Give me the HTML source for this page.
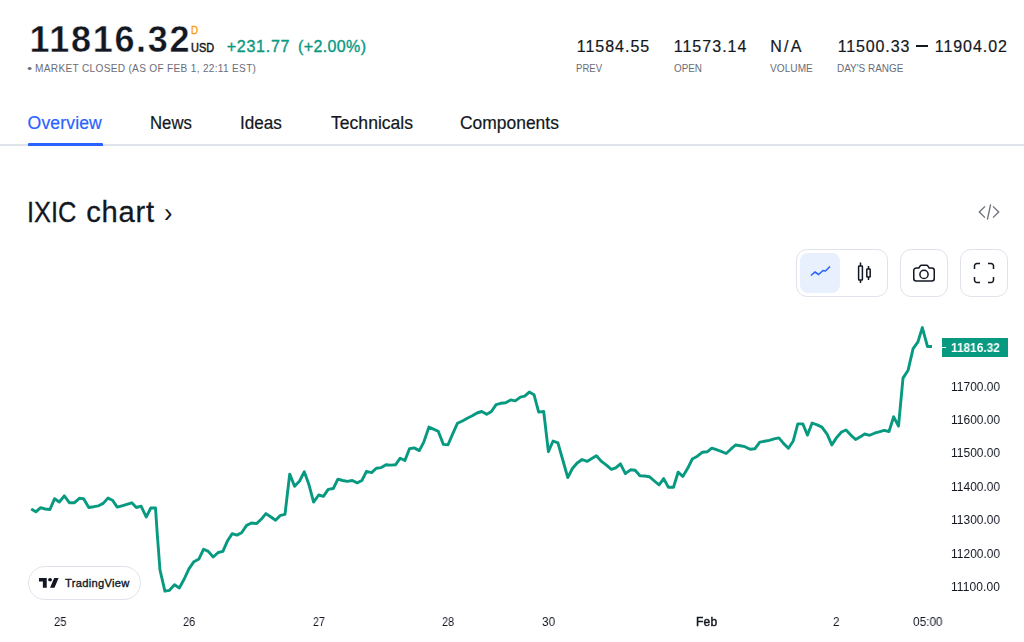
<!DOCTYPE html>
<html><head><meta charset="utf-8">
<style>
html,body{margin:0;padding:0;background:#fff;}
body{width:1024px;height:642px;position:relative;overflow:hidden;font-family:"Liberation Sans",sans-serif;color:#131722;}
.a{position:absolute;}
.t{position:absolute;white-space:nowrap;line-height:1;transform-origin:0 0;}
.btn{position:absolute;box-sizing:border-box;border:1px solid #e0e3eb;border-radius:11px;background:#fff;}
</style></head><body>
<div class="a" style="left:0;top:144px;width:1024px;height:2px;background:#e0e3eb;"></div>
<div class="a" style="left:28px;top:143px;width:75px;height:3px;background:#2962ff;border-radius:1px 1px 0 0;"></div>
<div class="a" style="left:916px;top:45px;width:12px;height:1.5px;background:#131722;"></div>

<svg class="a" style="left:976px;top:200px;" width="26" height="24" viewBox="0 0 26 24" fill="none" stroke="#6a6d78" stroke-width="1.3"><path d="M9 6.4 L3.3 12 L9 17.6 M17 6.4 L22.7 12 L17 17.6 M14.6 4.3 L11.4 19.7"/></svg>

<div class="btn" style="left:796px;top:249px;width:92px;height:48px;"></div>
<div class="a" style="left:800px;top:253px;width:40px;height:40px;background:#e8f0fe;border-radius:8px;"></div>
<div class="btn" style="left:900px;top:249px;width:48px;height:48px;"></div>
<div class="btn" style="left:960px;top:249px;width:48px;height:48px;"></div>
<svg class="a" style="left:806px;top:259px;" width="28" height="28" viewBox="0 0 28 28" fill="none" stroke="#2962ff" stroke-width="1.6"><path d="M5 16.5 L9 13 L12.5 15.5 L17 11.5 L19.5 12 L24 7.5"/></svg>
<svg class="a" style="left:850px;top:259px;" width="28" height="28" viewBox="0 0 28 28" fill="none" stroke="#131722" stroke-width="1.5"><path d="M10.5 3.5v3.5 M10.5 21V24 M18.5 7v3 M18.5 18V21"/><rect x="8.6" y="7" width="3.8" height="14" rx="0.6"/><rect x="16.8" y="10" width="3.4" height="8" rx="0.6"/></svg>
<svg class="a" style="left:910px;top:259px;" width="28" height="28" viewBox="0 0 28 28" fill="none" stroke="#131722" stroke-width="1.5"><path d="M3.75 11.5a2.5 2.5 0 0 1 2.5-2.5h2.6l1.2-1.9a1.8 1.8 0 0 1 1.5-.85h4.9a1.8 1.8 0 0 1 1.5.85l1.2 1.9h2.6a2.5 2.5 0 0 1 2.5 2.5v8a2.5 2.5 0 0 1-2.5 2.5h-15.500a2.5 2.5 0 0 1-2.5-2.5z"/><circle cx="14" cy="15.4" r="4.1"/></svg>
<svg class="a" style="left:970px;top:259px;" width="28" height="28" viewBox="0 0 28 28" fill="none" stroke="#131722" stroke-width="1.5"><path d="M4.5 10V7a2.5 2.5 0 0 1 2.5-2.5h3 M18 4.5h3a2.5 2.5 0 0 1 2.5 2.5v3 M23.5 18v3a2.5 2.5 0 0 1-2.5 2.5h-3 M10 23.5h-3a2.5 2.5 0 0 1-2.5-2.5v-3"/></svg>

<svg class="a" style="left:0;top:300px;" width="1024" height="342" viewBox="0 300 1024 342"><polyline fill="none" stroke="#089981" stroke-width="2.9" stroke-linejoin="round" stroke-linecap="butt" points="31.2,509 35.9,511.8 40.6,507.7 45.2,509 49.9,509.5 54.6,498.7 59.3,502 64.3,495.9 69.5,502.8 74.2,502.8 79.4,498.3 83.6,498.7 88.8,507.5 93.8,506.7 98.5,505.8 103.2,503.4 107.9,498.1 112.5,500.2 117.2,507.1 121.9,505.8 126.9,504.3 131.8,502.8 136.3,507.5 141.1,506.2 146.2,517 150.8,508 155.5,508 157.4,536 160,570 164.9,591.2 169.5,590.3 174.5,584.8 179.3,588 184.2,579 188.9,568.8 193.9,561.7 199,558.9 203.6,549.2 208.3,551.4 213.2,557 218.2,552.5 222.9,551.4 227.6,540.7 232.2,533.6 236.9,535.1 241.6,532.7 246.6,525.4 251.5,523 256.5,523.6 261.2,519.3 265.9,513.6 270.6,516.8 275.6,520.2 280.5,515.3 285,514.3 289.7,474.1 294.6,486.3 299.6,481 304.3,471.7 309,484.8 313.6,502.1 318.7,495 323.4,496.4 328.2,489.4 333.3,488.5 337.9,479.2 342.6,480.5 347.3,481.4 352.3,480.5 357.2,482.9 361.9,480.5 366.5,471.3 371.6,472.6 376.3,468.3 381.3,467.6 386,464.8 390.8,465.1 395.5,464.8 400.2,458.2 404.9,460.5 409.5,448.7 414.2,447.9 419.3,450.6 423.9,441.8 428.9,427.1 433.5,429.1 438.2,431.2 443.4,444.4 448,444.8 452.7,433.9 457.4,423.3 462.4,421 467.3,418.2 472.3,415.8 477,413 481.7,411.5 486.7,414.3 491.4,411.5 496.1,404.6 500.9,403.3 505.6,402.7 510.7,399.9 515.3,400.8 520.4,397.1 524.7,396.2 529.3,392.1 534,394.7 538.7,412.1 543.7,411.5 548.4,451.7 553.1,441 557.9,442.9 562.8,460 567.8,477.6 572.4,468.5 577.2,463 582.1,459.5 587.1,461.4 591.8,458.6 596.4,455.8 601.5,461.4 606.4,465.1 611.4,469.4 615.7,467.9 620.4,463.8 625.4,473.6 630.5,469.8 635.1,470.2 640,475.8 644.7,476 649.3,476.7 654.4,481 659.1,484.8 663.7,478.6 668.4,487.2 673.5,487.2 678.1,472.2 682.8,476.4 687.7,468.3 692.3,459 697.4,456.2 702.2,452.3 707.1,451.8 711.8,448.1 716.4,449.7 721.1,451.4 726.2,453.5 730.8,449.2 735.5,445 740.2,445.8 744.9,446.7 750.1,449.2 754.8,448.8 759.8,442.1 764.5,441.3 769.2,440.4 774.2,438.9 778.9,437.9 783.7,443.6 788.4,448.2 793.1,441.3 797.8,423.9 802.8,423.9 807.5,435.1 812.1,423 817.2,424.9 821.9,427.1 827.1,434.2 831.8,444.9 836.4,437.9 841.5,432 846,430 850.8,435.1 855.6,439.5 860,436.9 864.7,434 869.7,435.3 874.4,433.2 879.1,431.9 884.1,430.4 889,431.5 893.7,416.8 898.5,426.1 903,378.1 908.1,370.2 913.1,348.7 917.8,342.2 922.3,327.6 927.5,346.5 932,346.5"/></svg>

<div class="a" style="left:942px;top:338px;width:66px;height:19px;background:#089981;"></div>
<div class="a" style="left:942px;top:347px;width:4px;height:1px;background:#fff;"></div>

<div class="a" style="left:28px;top:566px;width:113px;height:34px;box-sizing:border-box;border:1px solid #e0e3eb;border-radius:17px;background:#fff;"></div>
<svg class="a" style="left:39.1px;top:578.4px;" width="19.9" height="9.8" viewBox="0 0 36 19" preserveAspectRatio="none" fill="#131722"><path d="M14 19H7V7H0V0h14v19z M28 19h-8l7.500-19h8L28 19z"/><circle cx="20" cy="3.500" r="3.500"/></svg>
<div class="t" style="top:21.83px;font-size:36px;color:#131722;font-weight:bold;left:29.6px;letter-spacing:1.68px;-webkit-text-stroke:0.4px #fff;">11816.32</div>
<div class="t" style="top:25.31px;font-size:11.8px;color:#ff9800;left:190.7px;transform:scaleX(0.832);-webkit-text-stroke:0.3px #ff9800;">D</div>
<div class="t" style="top:42.14px;font-size:12px;color:#131722;left:191.0px;transform:scaleX(0.910);-webkit-text-stroke:0.45px #131722;">USD</div>
<div class="t" style="top:38.76px;font-size:16px;color:#089981;left:226.8px;letter-spacing:0.72px;-webkit-text-stroke:0.35px #089981;">+231.77</div>
<div class="t" style="top:38.76px;font-size:16px;color:#089981;left:298.0px;letter-spacing:0.37px;-webkit-text-stroke:0.35px #089981;">(+2.00%)</div>
<div class="t" style="top:63.41px;font-size:10.5px;color:#6a6d78;left:27.1px;transform:scaleX(1.402);">•</div>
<div class="t" style="top:63.75px;font-size:10.1px;color:#6a6d78;left:35.1px;letter-spacing:0.31px;">MARKET CLOSED (AS OF FEB 1, 22:11 EST)</div>
<div class="t" style="top:38.76px;font-size:16px;color:#131722;left:576.8px;letter-spacing:0.98px;-webkit-text-stroke:0.2px #131722;">11584.55</div>
<div class="t" style="top:38.76px;font-size:16px;color:#131722;left:673.7px;letter-spacing:1.03px;-webkit-text-stroke:0.2px #131722;">11573.14</div>
<div class="t" style="top:38.76px;font-size:16px;color:#131722;left:770.2px;letter-spacing:2.27px;-webkit-text-stroke:0.2px #131722;">N/A</div>
<div class="t" style="top:38.76px;font-size:16px;color:#131722;left:837.7px;letter-spacing:0.87px;-webkit-text-stroke:0.2px #131722;">11500.33</div>
<div class="t" style="top:38.76px;font-size:16px;color:#131722;left:934.8px;letter-spacing:0.93px;-webkit-text-stroke:0.2px #131722;">11904.02</div>
<div class="t" style="top:63.75px;font-size:10.1px;color:#6a6d78;left:576.0px;transform:scaleX(0.947);">PREV</div>
<div class="t" style="top:63.75px;font-size:10.1px;color:#6a6d78;left:674.0px;transform:scaleX(0.979);">OPEN</div>
<div class="t" style="top:63.75px;font-size:10.1px;color:#6a6d78;left:770.1px;letter-spacing:0.02px;">VOLUME</div>
<div class="t" style="top:63.75px;font-size:10.1px;color:#6a6d78;left:837.1px;transform:scaleX(0.986);">DAY'S RANGE</div>
<div class="t" style="top:115.40px;font-size:17.6px;color:#2962ff;left:27.6px;letter-spacing:0.13px;-webkit-text-stroke:0.2px #2962ff;">Overview</div>
<div class="t" style="top:115.40px;font-size:17.6px;color:#131722;left:150.2px;transform:scaleX(0.951);-webkit-text-stroke:0.2px #131722;">News</div>
<div class="t" style="top:115.40px;font-size:17.6px;color:#131722;left:239.7px;transform:scaleX(0.974);-webkit-text-stroke:0.2px #131722;">Ideas</div>
<div class="t" style="top:115.40px;font-size:17.6px;color:#131722;left:330.5px;transform:scaleX(0.999);-webkit-text-stroke:0.2px #131722;">Technicals</div>
<div class="t" style="top:115.40px;font-size:17.6px;color:#131722;left:460.4px;transform:scaleX(0.991);-webkit-text-stroke:0.2px #131722;">Components</div>
<div class="t" style="top:197.24px;font-size:29.6px;color:#131722;left:27.1px;transform:scaleX(0.860);-webkit-text-stroke:0.3px #131722;">IXIC</div>
<div class="t" style="top:197.58px;font-size:29.2px;color:#131722;left:86.3px;letter-spacing:0.71px;-webkit-text-stroke:0.3px #131722;">chart</div>
<div class="t" style="top:198.17px;font-size:28.5px;color:#131722;left:163.9px;transform:scaleX(0.889);">›</div>
<div class="t" style="top:341.89px;font-size:12.3px;color:#ffffff;font-weight:bold;left:950.8px;transform:scaleX(0.964);will-change:transform;">11816.32</div>
<div class="t" style="top:381.14px;font-size:12px;color:#131722;left:951.1px;transform:scaleX(0.997);will-change:transform;">11700.00</div>
<div class="t" style="top:414.14px;font-size:12px;color:#131722;left:951.1px;transform:scaleX(0.997);will-change:transform;">11600.00</div>
<div class="t" style="top:447.14px;font-size:12px;color:#131722;left:951.1px;transform:scaleX(0.997);will-change:transform;">11500.00</div>
<div class="t" style="top:481.14px;font-size:12px;color:#131722;left:951.1px;transform:scaleX(0.997);will-change:transform;">11400.00</div>
<div class="t" style="top:514.14px;font-size:12px;color:#131722;left:951.1px;transform:scaleX(0.997);will-change:transform;">11300.00</div>
<div class="t" style="top:548.14px;font-size:12px;color:#131722;left:951.1px;transform:scaleX(0.997);will-change:transform;">11200.00</div>
<div class="t" style="top:581.14px;font-size:12px;color:#131722;left:951.1px;letter-spacing:0.08px;will-change:transform;">11100.00</div>
<div class="t" style="top:616.14px;font-size:12px;color:#131722;left:53.6px;transform:scaleX(0.932);will-change:transform;">25</div>
<div class="t" style="top:616.14px;font-size:12px;color:#131722;left:183.3px;transform:scaleX(0.904);will-change:transform;">26</div>
<div class="t" style="top:616.14px;font-size:12px;color:#131722;left:312.8px;transform:scaleX(0.881);will-change:transform;">27</div>
<div class="t" style="top:616.14px;font-size:12px;color:#131722;left:442.0px;transform:scaleX(0.898);will-change:transform;">28</div>
<div class="t" style="top:616.14px;font-size:12px;color:#131722;left:542.3px;transform:scaleX(0.978);will-change:transform;">30</div>
<div class="t" style="top:616.14px;font-size:12px;color:#131722;left:696.1px;letter-spacing:0.21px;will-change:transform;-webkit-text-stroke:0.45px #131722;">Feb</div>
<div class="t" style="top:616.14px;font-size:12px;color:#131722;left:833.0px;transform:scaleX(0.959);will-change:transform;">2</div>
<div class="t" style="top:616.14px;font-size:12px;color:#131722;left:913.0px;transform:scaleX(0.984);will-change:transform;">05:00</div>
<div class="t" style="top:577.82px;font-size:11.2px;color:#131722;left:65.1px;letter-spacing:0.27px;-webkit-text-stroke:0.35px #131722;">TradingView</div>
</body></html>
